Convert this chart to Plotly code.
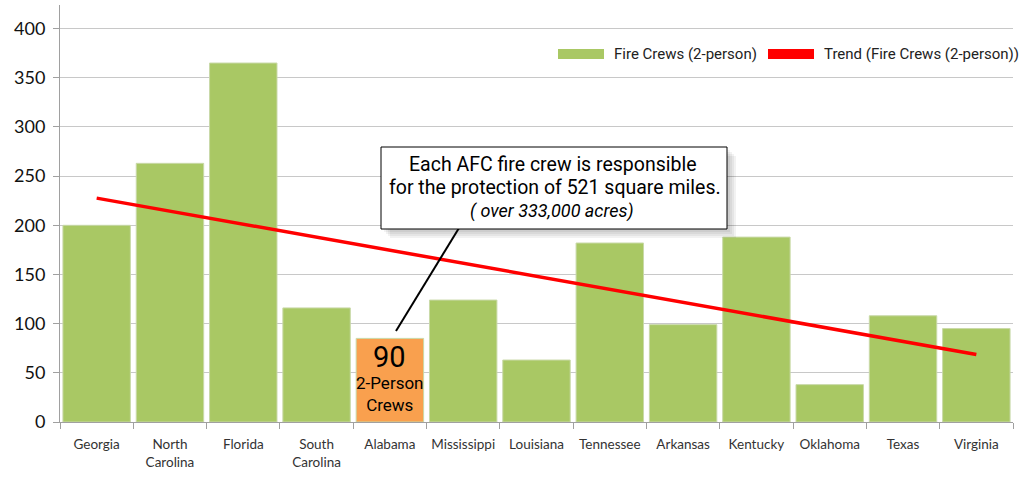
import numpy as np
import plotly.graph_objects as go

states = ["Georgia", "North<br>Carolina", "Florida", "South<br>Carolina", "Alabama",
          "Mississippi", "Louisiana", "Tennessee", "Arkansas", "Kentucky",
          "Oklahoma", "Texas", "Virginia"]
crews = [200, 263, 365, 116, 85, 124, 63, 182, 99, 188, 38, 108, 95]
highlight = "Alabama"
highlight_label = "90"
series_name = "Fire Crews (2-person)"
trend_name = "Trend (Fire Crews (2-person))"
y_ticks = [0, 50, 100, 150, 200, 250, 300, 350, 400]

W, H = 1020, 477
L, R, T, B = 60, 7, 5, 55
PW, PH = W - L - R, H - T - B

def px(x):
    return (x - L) / PW

def py(y):
    return 1 - (y - T) / PH

GREEN = "#a9c864"
ORANGE = "#f9a04e"
NARROW = "Liberation Sans Narrow, Arial Narrow, Roboto, sans-serif"

idx = np.arange(len(crews))
coef = np.polyfit(idx, crews, 1)
trend = np.polyval(coef, idx)

colors = [ORANGE if s == highlight else GREEN for s in states]

fig = go.Figure()
fig.add_trace(go.Bar(x=states, y=crews, name=series_name, marker_color=colors,
                     marker_line=dict(color="#c9d9a8", width=1), width=0.92,
                     showlegend=False))
fig.add_trace(go.Scatter(x=states, y=trend, mode="lines", name=trend_name,
                         line=dict(color="#ff0000", width=3.5), showlegend=False))

shapes = []
annotations = []

# legend (manual)
shapes.append(dict(type="rect", xref="paper", yref="paper", x0=px(558), x1=px(604),
                   y0=py(59), y1=py(49), fillcolor=GREEN, line=dict(width=0)))
annotations.append(dict(xref="paper", yref="paper", x=px(612), y=py(54), xanchor="left",
                        yanchor="middle", text=series_name, showarrow=False,
                        font=dict(family=NARROW, size=15, color="#222")))
shapes.append(dict(type="rect", xref="paper", yref="paper", x0=px(768), x1=px(814),
                   y0=py(59), y1=py(49), fillcolor="#ff0000", line=dict(width=0)))
annotations.append(dict(xref="paper", yref="paper", x=px(822), y=py(54), xanchor="left",
                        yanchor="middle", text=trend_name, showarrow=False,
                        font=dict(family=NARROW, size=15, color="#222")))

# callout shadow + box
for i, op in enumerate([0.05, 0.05, 0.05, 0.05]):
    d = 3 + i * 2
    shapes.append(dict(type="rect", xref="paper", yref="paper", x0=px(381 + d), x1=px(727 + d),
                       y0=py(229 + d), y1=py(147 + d), fillcolor="rgba(0,0,0,%s)" % op,
                       line=dict(width=0), layer="above"))
shapes.append(dict(type="line", xref="paper", yref="paper", x0=px(459), y0=py(228),
                   x1=px(396), y1=py(331), line=dict(color="black", width=2), layer="above"))
shapes.append(dict(type="rect", xref="paper", yref="paper", x0=px(381), x1=px(727),
                   y0=py(229), y1=py(147), fillcolor="white",
                   line=dict(color="black", width=1), layer="above"))
annotations.append(dict(xref="paper", yref="paper", x=px(553), y=py(164), showarrow=False,
                        text="Each AFC fire crew is responsible", xanchor="center", yanchor="middle",
                        font=dict(family=NARROW, size=19.5, color="black")))
annotations.append(dict(xref="paper", yref="paper", x=px(555), y=py(188), showarrow=False,
                        text="for the protection of 521 square miles.", xanchor="center", yanchor="middle",
                        font=dict(family=NARROW, size=19.5, color="black")))
annotations.append(dict(xref="paper", yref="paper", x=px(552), y=py(211), showarrow=False,
                        text="<i>( over 333,000 acres)</i>", xanchor="center", yanchor="middle",
                        font=dict(family=NARROW, size=18, color="black")))

# highlight label in the Alabama bar
hval = crews[states.index(highlight)]
annotations.append(dict(x=highlight, y=hval, yref="y", xref="x", showarrow=False,
                        text=highlight_label, yanchor="top", yshift=0,
                        font=dict(family=NARROW, size=29, color="black")))
annotations.append(dict(x=highlight, y=hval, yref="y", xref="x", showarrow=False,
                        text="2-Person<br>Crews", yanchor="top", yshift=-33,
                        font=dict(family=NARROW, size=17, color="black")))

fig.update_layout(
    width=W, height=H,
    margin=dict(l=L, r=R, t=T, b=B),
    paper_bgcolor="white", plot_bgcolor="white",
    bargap=0.08,
    shapes=shapes, annotations=annotations,
    showlegend=False,
    xaxis=dict(showline=True, linecolor="#a0a0a0", linewidth=1, ticks="outside",
               tickson="boundaries", ticklen=6, tickcolor="#a0a0a0",
               ticklabelstandoff=10, tickangle=0, automargin=False,
               tickfont=dict(family="Lato, sans-serif", size=13.5, color="#333"),
               showgrid=False, zeroline=False),
    yaxis=dict(range=[0, 424], tickvals=y_ticks, showline=True, linecolor="#a0a0a0",
               linewidth=1, gridcolor="#c8c8c8", gridwidth=1, zeroline=False,
               ticks="outside", ticklen=6, tickcolor="#a0a0a0",
               ticklabelstandoff=4, automargin=False,
               tickfont=dict(family="Lato, sans-serif", size=18, color="#111")),
)

fig.write_html("out.html")
